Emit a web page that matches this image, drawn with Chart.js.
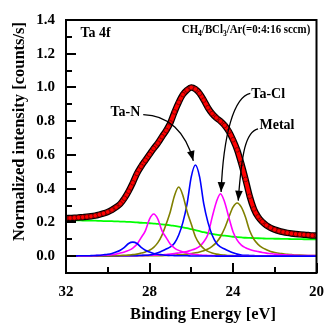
<!DOCTYPE html>
<html>
<head>
<meta charset="utf-8">
<script src="https://cdn.jsdelivr.net/npm/chart.js@4.4.1/dist/chart.umd.min.js"></script>
<style>
  html, body { margin: 0; padding: 0; background: #fff; }
</style>
</head>
<body>
<canvas id="xps" width="334" height="329"></canvas>
<script>
// Ta 4f spectrum, CH4/BCl3/Ar etch
const energy = [
  32.0, 31.8, 31.6, 31.4, 31.2, 31.0, 30.8, 30.6, 30.4, 30.2,
  30.0, 29.8, 29.6, 29.4, 29.2, 29.0, 28.8, 28.6, 28.4, 28.2,
  28.0, 27.8, 27.6, 27.4, 27.2, 27.0, 26.8, 26.6, 26.4, 26.2,
  26.0, 25.8, 25.6, 25.4, 25.2, 25.0, 24.8, 24.6, 24.4, 24.2,
  24.0, 23.8, 23.6, 23.4, 23.2, 23.0, 22.8, 22.6, 22.4, 22.2,
  22.0, 21.8, 21.6, 21.4, 21.2, 21.0, 20.8, 20.6, 20.4, 20.2,
  20.0
];
const measured = [
  0.225, 0.226, 0.227, 0.229, 0.231, 0.233, 0.236, 0.240, 0.246, 0.253,
  0.262, 0.274, 0.290, 0.310, 0.343, 0.385, 0.435, 0.490, 0.532, 0.568,
  0.603, 0.638, 0.670, 0.708, 0.745, 0.790, 0.855, 0.912, 0.958, 0.985,
  1.000, 0.990, 0.965, 0.925, 0.880, 0.845, 0.820, 0.800, 0.775, 0.740,
  0.690, 0.630, 0.548, 0.455, 0.355, 0.280, 0.233, 0.204, 0.183, 0.168,
  0.157, 0.149, 0.143, 0.138, 0.134, 0.131, 0.129, 0.127, 0.125, 0.123,
  0.122
];
const background = [
  0.213, 0.213, 0.212, 0.212, 0.211, 0.211, 0.210, 0.210, 0.209, 0.208,
  0.208, 0.207, 0.206, 0.205, 0.204, 0.203, 0.202, 0.200, 0.198, 0.197,
  0.195, 0.193, 0.191, 0.188, 0.186, 0.183, 0.179, 0.175, 0.171, 0.166,
  0.160, 0.154, 0.148, 0.142, 0.137, 0.132, 0.128, 0.124, 0.121, 0.118,
  0.115, 0.113, 0.111, 0.109, 0.108, 0.107, 0.106, 0.105, 0.104, 0.104,
  0.103, 0.103, 0.102, 0.102, 0.101, 0.101, 0.101, 0.100, 0.100, 0.100,
  0.100
];
// fitted components, named by peak position
const p288 = [
  0.001, 0.001, 0.001, 0.002, 0.002, 0.002, 0.003, 0.004, 0.005, 0.008,
  0.011, 0.016, 0.024, 0.035, 0.052, 0.075, 0.083, 0.075, 0.052, 0.035,
  0.024, 0.016, 0.011, 0.008, 0.005, 0.004, 0.003, 0.002, 0.002, 0.002,
  0.001, 0.001, 0.001, 0.001, 0.001, 0.001, 0, 0, 0, 0,
  0, 0, 0, 0, 0, 0, 0, 0, 0, 0,
  0, 0, 0, 0, 0, 0, 0, 0, 0, 0,
  0
];
const p278 = [
  0.001, 0.001, 0.001, 0.001, 0.001, 0.001, 0.002, 0.003, 0.004, 0.005,
  0.007, 0.009, 0.012, 0.018, 0.025, 0.034, 0.048, 0.070, 0.110, 0.150,
  0.220, 0.250, 0.220, 0.150, 0.110, 0.070, 0.048, 0.034, 0.025, 0.018,
  0.012, 0.009, 0.007, 0.005, 0.004, 0.003, 0.002, 0.001, 0.001, 0.001,
  0.001, 0.001, 0, 0, 0, 0, 0, 0, 0, 0,
  0, 0, 0, 0, 0, 0, 0, 0, 0, 0,
  0
];
const p266 = [
  0, 0, 0, 0, 0, 0, 0, 0.001, 0.001, 0.001,
  0.001, 0.001, 0.002, 0.004, 0.005, 0.006, 0.009, 0.012, 0.018, 0.025,
  0.035, 0.052, 0.080, 0.125, 0.190, 0.265, 0.360, 0.410, 0.360, 0.265,
  0.190, 0.115, 0.072, 0.045, 0.028, 0.018, 0.012, 0.008, 0.006, 0.004,
  0.003, 0.002, 0.001, 0.001, 0.001, 0.001, 0.001, 0, 0, 0,
  0, 0, 0, 0, 0, 0, 0, 0, 0, 0,
  0
];
const p258 = [
  0, 0, 0, 0, 0, 0.001, 0.001, 0.001, 0.001, 0.001,
  0.001, 0.001, 0.001, 0.002, 0.002, 0.002, 0.002, 0.003, 0.004, 0.005,
  0.007, 0.012, 0.020, 0.030, 0.042, 0.055, 0.078, 0.125, 0.200, 0.310,
  0.470, 0.540, 0.470, 0.310, 0.200, 0.125, 0.078, 0.055, 0.042, 0.030,
  0.020, 0.012, 0.007, 0.005, 0.004, 0.003, 0.002, 0.002, 0.002, 0.002,
  0.001, 0.001, 0.001, 0.001, 0.001, 0.001, 0.001, 0.001, 0, 0,
  0
];
const p246 = [
  0.001, 0.001, 0.001, 0.001, 0.001, 0.001, 0.001, 0.001, 0.001, 0.002,
  0.002, 0.002, 0.002, 0.002, 0.002, 0.003, 0.003, 0.003, 0.004, 0.004,
  0.005, 0.006, 0.007, 0.008, 0.010, 0.012, 0.015, 0.019, 0.023, 0.028,
  0.035, 0.044, 0.058, 0.085, 0.130, 0.230, 0.320, 0.370, 0.320, 0.230,
  0.145, 0.095, 0.065, 0.050, 0.040, 0.032, 0.027, 0.022, 0.018, 0.015,
  0.012, 0.010, 0.008, 0.007, 0.006, 0.005, 0.004, 0.004, 0.003, 0.003,
  0.003
];
const p238 = [
  0.001, 0.001, 0.001, 0.001, 0.001, 0.001, 0.001, 0.001, 0.001, 0.001,
  0.001, 0.002, 0.002, 0.002, 0.002, 0.002, 0.002, 0.003, 0.003, 0.003,
  0.003, 0.003, 0.003, 0.003, 0.004, 0.005, 0.006, 0.008, 0.010, 0.012,
  0.016, 0.020, 0.025, 0.032, 0.042, 0.058, 0.080, 0.115, 0.165, 0.230,
  0.290, 0.315, 0.290, 0.230, 0.150, 0.100, 0.070, 0.050, 0.038, 0.028,
  0.022, 0.017, 0.014, 0.011, 0.009, 0.007, 0.006, 0.005, 0.004, 0.003,
  0.003
];

const xTicks = [32, 28, 24, 20];
const xMinor = [30, 26, 22];
const yTicks = [0.0, 0.2, 0.4, 0.6, 0.8, 1.0, 1.2, 1.4];
const yMinor = [0.1, 0.3, 0.5, 0.7, 0.9, 1.1, 1.3];

const SERIF = '"Liberation Serif", "Times New Roman", serif';

// label text, label anchor and arrow curve, all in (eV, intensity)
const callouts = [
  { text: 'Ta-N',  at: [29.87, 0.853], path: [[28.30, 0.839], [27.10, 0.836], [26.27, 0.738], [25.90, 0.565]] },
  { text: 'Ta-Cl', at: [23.12, 0.957], path: [[23.17, 0.965], [23.95, 0.945], [24.46, 0.726], [24.57, 0.380]] },
  { text: 'Metal', at: [22.73, 0.775], path: [[22.80, 0.755], [23.40, 0.738], [23.58, 0.611], [23.75, 0.329]] }
];

const pts = arr => energy.map((e, i) => ({ x: e, y: arr[i] }));

function comp(arr, color) {
  return {
    data: pts(arr),
    borderColor: color,
    borderWidth: 1.6,
    pointRadius: 0,
    cubicInterpolationMode: 'monotone',
    order: 3
  };
}

const frame = {
  id: 'frame',
  afterDraw(chart) {
    const { ctx, chartArea: a, scales: { x, y } } = chart;
    ctx.save();
    ctx.strokeStyle = '#000';
    ctx.fillStyle = '#000';

    // inward ticks
    ctx.lineWidth = 2;
    ctx.beginPath();
    yTicks.forEach(v => { const py = Math.round(y.getPixelForValue(v)); ctx.moveTo(a.left, py); ctx.lineTo(a.left + 10, py); });
    yMinor.forEach(v => { const py = Math.round(y.getPixelForValue(v)); ctx.moveTo(a.left, py); ctx.lineTo(a.left + 6, py); });
    xTicks.forEach(v => { const px = Math.round(x.getPixelForValue(v)); ctx.moveTo(px, a.bottom); ctx.lineTo(px, a.bottom - 10); });
    xMinor.forEach(v => { const px = Math.round(x.getPixelForValue(v)); ctx.moveTo(px, a.bottom); ctx.lineTo(px, a.bottom - 6); });
    ctx.stroke();

    // plot box
    ctx.lineWidth = 2;
    ctx.strokeRect(a.left, a.top, a.right - a.left, a.bottom - a.top);

    // callouts
    ctx.font = 'bold 14px ' + SERIF;
    ctx.textBaseline = 'middle';
    ctx.textAlign = 'left';
    callouts.forEach(c => {
      ctx.fillText(c.text, x.getPixelForValue(c.at[0]), y.getPixelForValue(c.at[1]));
      const p = c.path.map(q => [x.getPixelForValue(q[0]), y.getPixelForValue(q[1])]);
      ctx.lineWidth = 1.3;
      ctx.beginPath();
      ctx.moveTo(p[0][0], p[0][1]);
      ctx.bezierCurveTo(p[1][0], p[1][1], p[2][0], p[2][1], p[3][0], p[3][1]);
      ctx.stroke();
      const ang = Math.atan2(p[3][1] - p[2][1], p[3][0] - p[2][0]);
      ctx.save();
      ctx.translate(p[3][0], p[3][1]);
      ctx.rotate(ang);
      ctx.beginPath();
      ctx.moveTo(0, 0);
      ctx.lineTo(-10, -3.8);
      ctx.lineTo(-10, 3.8);
      ctx.closePath();
      ctx.fill();
      ctx.restore();
    });

    // in-plot captions
    ctx.font = 'bold 14px ' + SERIF;
    ctx.fillText('Ta 4f', x.getPixelForValue(31.31), y.getPixelForValue(1.32));

    // gas mixture, squeezed into its slot along the top edge
    const parts = [['CH', 0], ['4', 1], ['/BCl', 0], ['3', 1], ['/Ar(=0:4:16 sccm)', 0]];
    const fontOf = sub => 'bold ' + (sub ? 9 : 13) + 'px ' + SERIF;
    let total = 0;
    parts.forEach(([t, sub]) => { ctx.font = fontOf(sub); total += ctx.measureText(t).width; });
    const x0 = x.getPixelForValue(26.45);
    const x1 = x.getPixelForValue(20.3);
    const cy = y.getPixelForValue(1.343);
    ctx.save();
    ctx.translate(x0, cy);
    ctx.scale((x1 - x0) / total, 1);
    let cx = 0;
    parts.forEach(([t, sub]) => {
      ctx.font = fontOf(sub);
      ctx.fillText(t, cx, sub ? 4 : 0);
      cx += ctx.measureText(t).width;
    });
    ctx.restore();

    // axis titles
    ctx.font = 'bold 16.5px ' + SERIF;
    ctx.textAlign = 'center';
    ctx.fillText('Binding Energy [eV]', 203, 315);
    ctx.translate(19.5, 131.5);
    ctx.rotate(-Math.PI / 2);
    ctx.fillText('Normalized intensity [counts/s]', 0, 0);
    ctx.restore();
  }
};

new Chart(document.getElementById('xps'), {
  type: 'line',
  data: {
    datasets: [
      {
        label: 'Data',
        data: pts(measured),
        showLine: true,
        borderColor: '#ff0000',
        borderWidth: 4,
        cubicInterpolationMode: 'monotone',
        pointRadius: 2.3,
        pointBackgroundColor: '#ff0000',
        pointBorderColor: '#400000',
        pointBorderWidth: 0.6,
        order: 0
      },
      {
        label: 'Fit',
        data: pts(measured),
        borderColor: '#000',
        borderWidth: 6.5,
        pointRadius: 0,
        cubicInterpolationMode: 'monotone',
        order: 1
      },
      comp(p288, '#0000ff'),
      comp(p278, '#ff00ff'),
      comp(p266, '#808000'),
      comp(p258, '#0000ff'),
      comp(p246, '#ff00ff'),
      comp(p238, '#808000'),
      Object.assign(comp(background, '#00ff00'), { order: 4, borderWidth: 1.8 })
    ]
  },
  options: {
    responsive: false,
    animation: false,
    devicePixelRatio: 1,
    layout: { padding: { top: 12, right: 8, left: 0, bottom: 0 } },
    plugins: { legend: { display: false }, tooltip: { enabled: false } },
    scales: {
      x: {
        type: 'linear',
        reverse: true,
        min: 20,
        max: 32,
        grid: { display: false, drawTicks: false },
        border: { display: false },
        ticks: {
          color: '#000',
          font: { family: SERIF, size: 15, weight: 'bold' },
          padding: 10,
          maxRotation: 0,
          autoSkip: false,
          callback: v => String(v)
        },
        afterBuildTicks: s => { s.ticks = xTicks.map(v => ({ value: v })); },
        afterFit: s => { s.height = 56; }
      },
      y: {
        min: -0.1,
        max: 1.4,
        grid: { display: false, drawTicks: false },
        border: { display: false },
        ticks: {
          color: '#000',
          font: { family: SERIF, size: 15, weight: 'bold' },
          padding: 11,
          autoSkip: false,
          callback: v => v.toFixed(1)
        },
        afterBuildTicks: s => { s.ticks = yTicks.map(v => ({ value: v })); },
        afterFit: s => { s.width = 66; }
      }
    }
  },
  plugins: [frame]
});
</script>
</body>
</html>
